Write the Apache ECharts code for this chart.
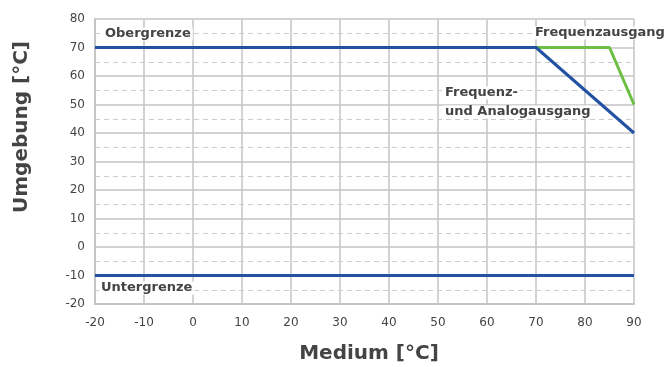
<!DOCTYPE html>
<html><head><meta charset="utf-8">
<script src="https://cdn.jsdelivr.net/npm/echarts@6/dist/echarts.min.js"></script>
<style>html,body{margin:0;padding:0;background:#fff}#c{width:667px;height:367px}</style>
</head><body><div id="c"></div>
<script>
const xTicks = [-20,-10,0,10,20,30,40,50,60,70,80,90];
const yTicks = [-20,-10,0,10,20,30,40,50,60,70,80];
const obergrenze = [[-20,70],[70,70],[90,40]];
const untergrenze = [[-20,-10],[90,-10]];
const frequenzausgang = [[70,70],[85,70],[90,50]];
const minorY = [-15,-5,5,15,25,35,45,55,65,75];
const labels = ["Obergrenze","Untergrenze","Frequenzausgang","Frequenz-","und Analogausgang"];
const axisNames = ["Medium [°C]","Umgebung [°C]"];

const blue = '#2452a3', green = '#6cbf42', grid = '#c4c4c4', txt = '#444';
const chart = echarts.init(document.getElementById('c'));
const font = '"DejaVu Sans"';
function lbl(text, x, y) {
  return {type:'text', x:x, y:y, z:3, style:{text:text, fill:txt, font:'bold 13px '+font, backgroundColor:'#fff', padding:[0,2], textVerticalAlign:'middle'}};
}
chart.setOption({
  animation:false,
  grid:{left:95, top:19, right:33, bottom:63},
  xAxis:{type:'value', min:-20, max:90, interval:10,
    axisLine:{show:true, onZero:false, lineStyle:{color:grid, width:2}},
    axisTick:{show:false},
    axisLabel:{color:txt, fontFamily:'DejaVu Sans', fontSize:12, margin:13},
    splitLine:{show:true, lineStyle:{color:grid, width:1.5}}},
  yAxis:{type:'value', min:-20, max:80, interval:10,
    axisLine:{show:true, onZero:false, lineStyle:{color:grid, width:2}},
    axisTick:{show:false},
    axisLabel:{color:txt, fontFamily:'DejaVu Sans', fontSize:12, margin:10},
    splitLine:{show:true, lineStyle:{color:grid, width:1.5}}},
  series:[
    {type:'line', z:1, data:minorY.map(v=>[-20,v]), symbol:'none', silent:true, lineStyle:{width:0},
     markLine:{silent:true, z:1, symbol:'none', label:{show:false}, lineStyle:{color:'#cccccc', type:[5,4], width:1},
       data:minorY.map(v=>({yAxis:v}))}},
    {type:'line', data:frequenzausgang, symbol:'none', lineStyle:{color:green, width:3}, z:5},
    {type:'line', data:obergrenze, symbol:'none', lineStyle:{color:blue, width:3}, z:6},
    {type:'line', data:untergrenze, symbol:'none', lineStyle:{color:blue, width:3}, z:6}
  ],
  graphic:[
    lbl(labels[0], 103, 34),
    lbl(labels[1], 99, 288),
    lbl(labels[2], 533, 33),
    lbl(labels[3], 443, 93),
    lbl(labels[4], 443, 112),
    {type:'text', x:369, y:354, style:{text:axisNames[0], fill:txt, font:'bold 20px '+font, textAlign:'center', textVerticalAlign:'middle'}},
    {type:'text', x:22, y:127, rotation:Math.PI/2, style:{text:axisNames[1], fill:txt, font:'bold 20px '+font, textAlign:'center', textVerticalAlign:'middle'}}
  ]
});
</script></body></html>
